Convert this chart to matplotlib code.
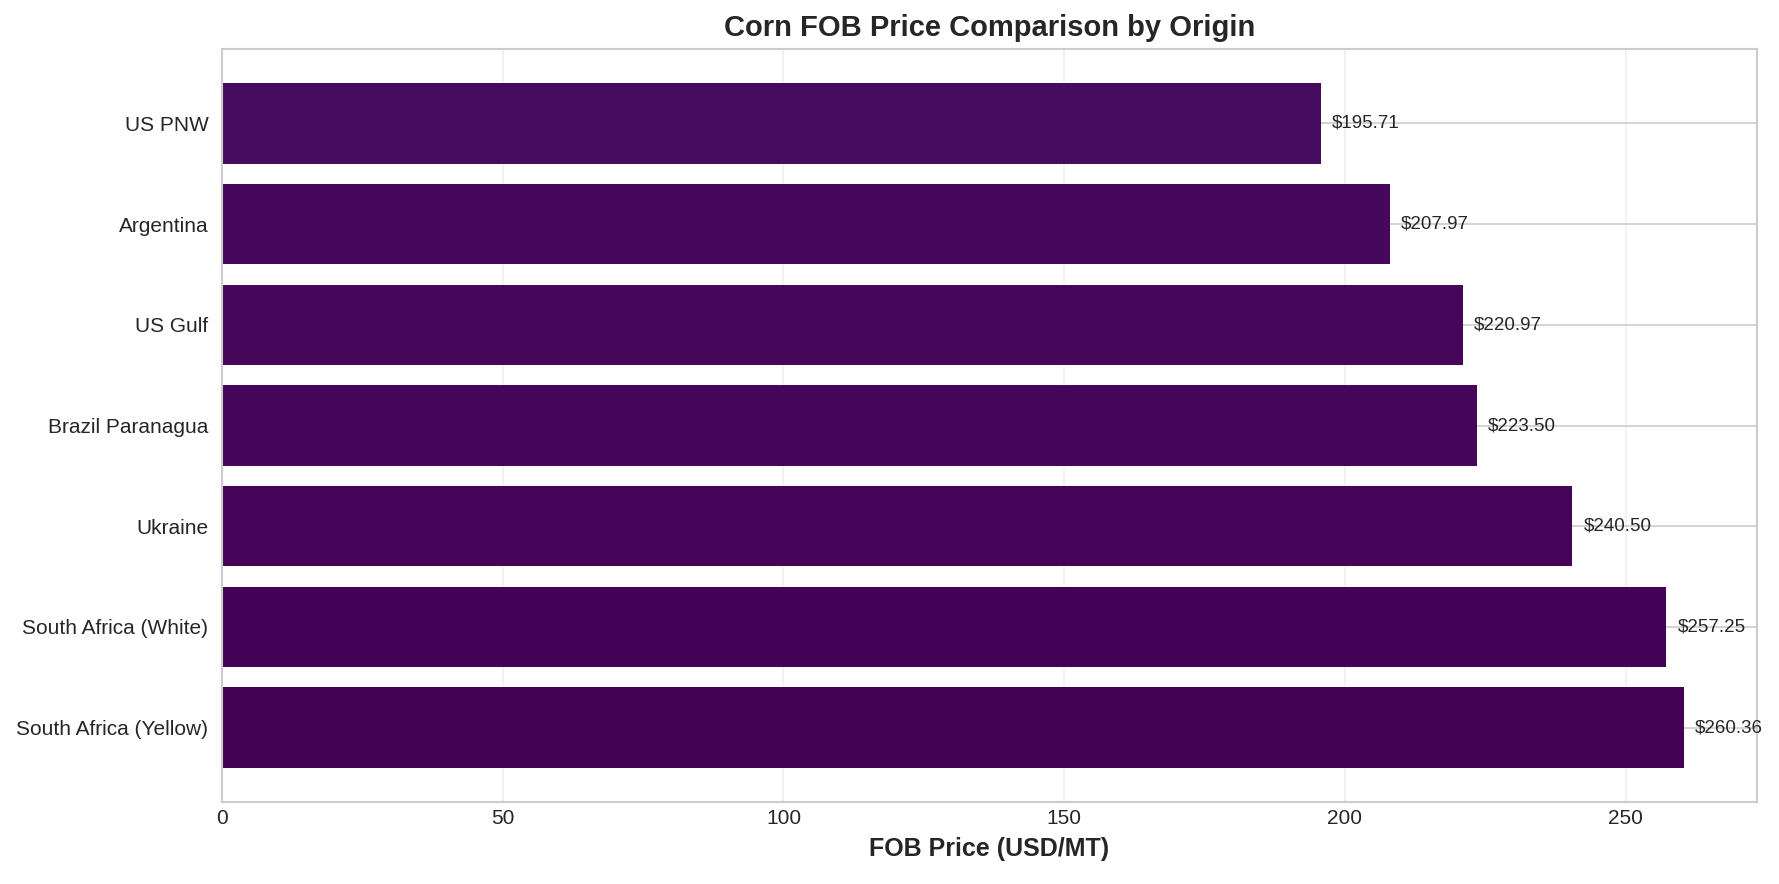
import matplotlib
matplotlib.use("Agg")
import matplotlib.pyplot as plt
import numpy as np

origins = ["South Africa (Yellow)", "South Africa (White)", "Ukraine",
           "Brazil Paranagua", "US Gulf", "Argentina", "US PNW"]
prices = [260.36, 257.25, 240.50, 223.50, 220.97, 207.97, 195.71]

plt.style.use("seaborn-v0_8-whitegrid")
plt.rcParams['font.family'] = ['Liberation Sans', 'DejaVu Sans']

W, H = 1779, 884
fig = plt.figure(figsize=(W / 150, H / 150), dpi=150)
ax = fig.add_axes([222 / W, 1 - 802 / H, (1757 - 222) / W, (802 - 49) / H])

colors = plt.cm.viridis(np.linspace(0.0, 0.028, len(prices)))
y = np.arange(len(origins))
ax.barh(y, prices, height=0.8, color=colors, zorder=2)
ax.set_yticks(y)
ax.set_yticklabels(origins)
ax.set_xlim(0, max(prices) * 1.05)

for yi, p in zip(y, prices):
    ax.text(p + 2, yi, f"${p:.2f}", va="center", ha="left",
            fontsize=9, color="#262626", zorder=3)

ax.grid(axis="x", alpha=0.3)
ax.set_axisbelow(True)
ax.tick_params(axis="both", labelsize=10)
ax.tick_params(axis="y", pad=6.5)
ax.set_xlabel("FOB Price (USD/MT)", fontsize=12, fontweight="bold")
ax.set_title("Corn FOB Price Comparison by Origin", fontsize=14, fontweight="bold")

fig.savefig("out.png", dpi=150)
